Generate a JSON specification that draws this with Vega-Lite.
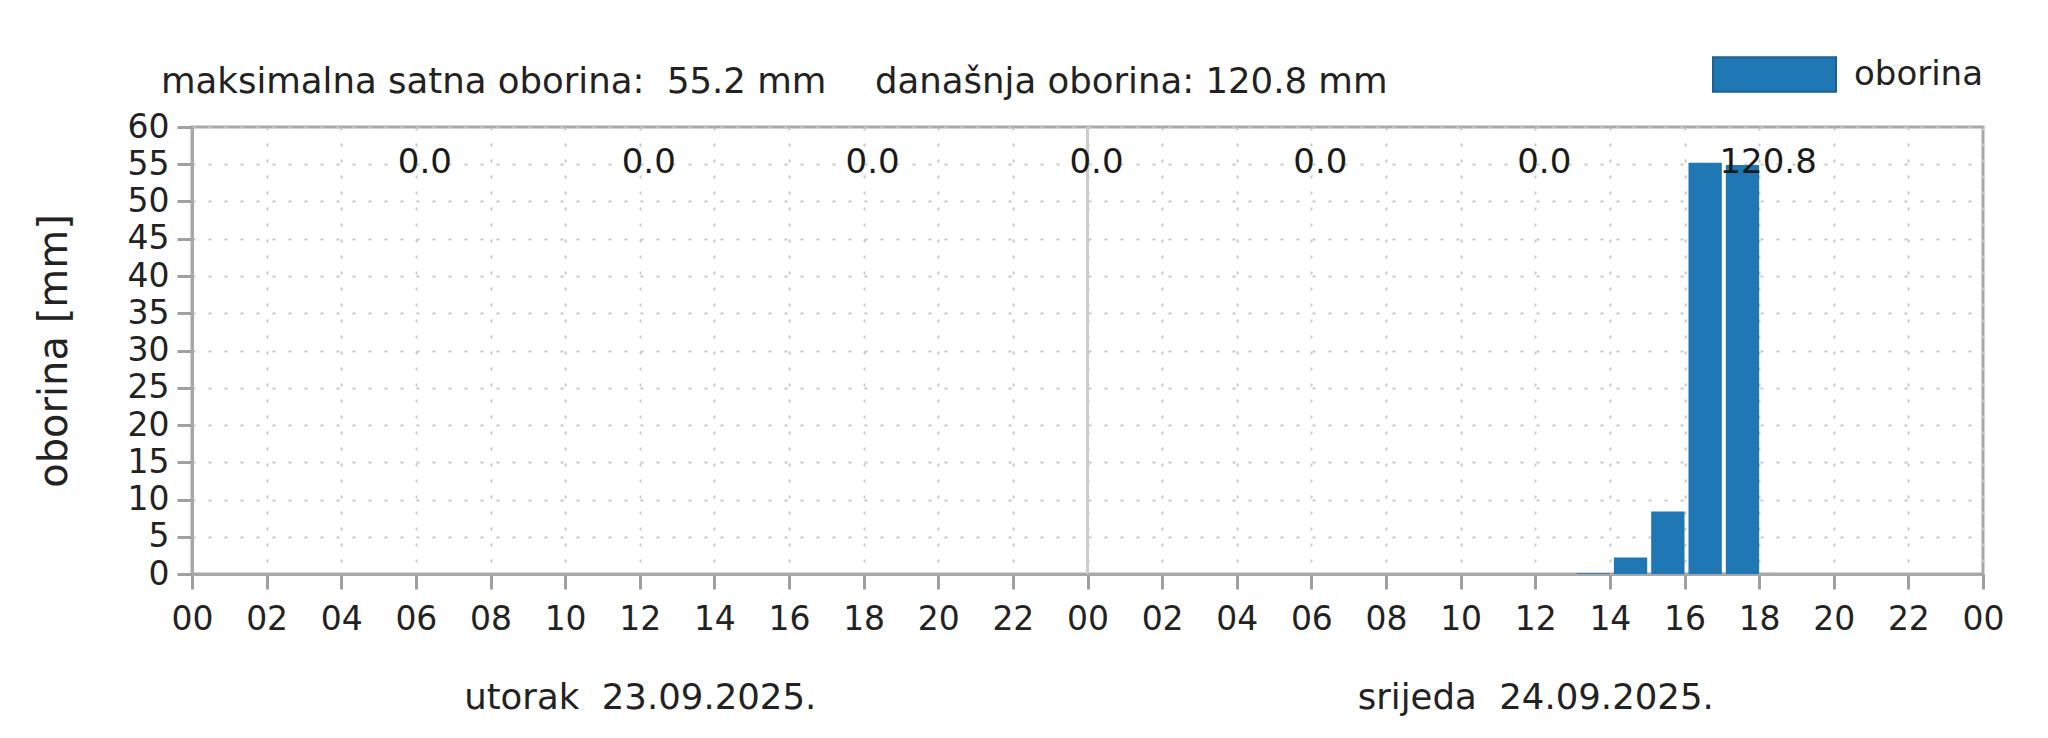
{
  "$schema": "https://vega.github.io/schema/vega-lite/v6.json",
  "width": 1791,
  "height": 447,
  "autosize": "none",
  "padding": {"left": 192, "top": 127, "right": 65, "bottom": 164},
  "background": "white",
  "config": {
    "font": "DejaVu Sans",
    "view": {"stroke": "#a8a8a8", "strokeWidth": 3}
  },
  "title": {
    "text": "maksimalna satna oborina:\u00a0\u00a055.2 mm\u00a0\u00a0\u00a0\u00a0\u200adanašnja oborina: 120.8 mm",
    "anchor": "start",
    "frame": "group",
    "dx": -31,
    "dy": 116,
    "offset": 0,
    "baseline": "alphabetic",
    "fontSize": 35.5,
    "font": "DejaVu Sans",
    "fontWeight": "normal",
    "color": "#222222"
  },
  "datasets": {
    "hourly": [
      {"start": "2025-09-23T00:00:00Z", "end": "2025-09-23T01:00:00Z", "oborina": 0},
      {"start": "2025-09-23T01:00:00Z", "end": "2025-09-23T02:00:00Z", "oborina": 0},
      {"start": "2025-09-23T02:00:00Z", "end": "2025-09-23T03:00:00Z", "oborina": 0},
      {"start": "2025-09-23T03:00:00Z", "end": "2025-09-23T04:00:00Z", "oborina": 0},
      {"start": "2025-09-23T04:00:00Z", "end": "2025-09-23T05:00:00Z", "oborina": 0},
      {"start": "2025-09-23T05:00:00Z", "end": "2025-09-23T06:00:00Z", "oborina": 0},
      {"start": "2025-09-23T06:00:00Z", "end": "2025-09-23T07:00:00Z", "oborina": 0},
      {"start": "2025-09-23T07:00:00Z", "end": "2025-09-23T08:00:00Z", "oborina": 0},
      {"start": "2025-09-23T08:00:00Z", "end": "2025-09-23T09:00:00Z", "oborina": 0},
      {"start": "2025-09-23T09:00:00Z", "end": "2025-09-23T10:00:00Z", "oborina": 0},
      {"start": "2025-09-23T10:00:00Z", "end": "2025-09-23T11:00:00Z", "oborina": 0},
      {"start": "2025-09-23T11:00:00Z", "end": "2025-09-23T12:00:00Z", "oborina": 0},
      {"start": "2025-09-23T12:00:00Z", "end": "2025-09-23T13:00:00Z", "oborina": 0},
      {"start": "2025-09-23T13:00:00Z", "end": "2025-09-23T14:00:00Z", "oborina": 0},
      {"start": "2025-09-23T14:00:00Z", "end": "2025-09-23T15:00:00Z", "oborina": 0},
      {"start": "2025-09-23T15:00:00Z", "end": "2025-09-23T16:00:00Z", "oborina": 0},
      {"start": "2025-09-23T16:00:00Z", "end": "2025-09-23T17:00:00Z", "oborina": 0},
      {"start": "2025-09-23T17:00:00Z", "end": "2025-09-23T18:00:00Z", "oborina": 0},
      {"start": "2025-09-23T18:00:00Z", "end": "2025-09-23T19:00:00Z", "oborina": 0},
      {"start": "2025-09-23T19:00:00Z", "end": "2025-09-23T20:00:00Z", "oborina": 0},
      {"start": "2025-09-23T20:00:00Z", "end": "2025-09-23T21:00:00Z", "oborina": 0},
      {"start": "2025-09-23T21:00:00Z", "end": "2025-09-23T22:00:00Z", "oborina": 0},
      {"start": "2025-09-23T22:00:00Z", "end": "2025-09-23T23:00:00Z", "oborina": 0},
      {"start": "2025-09-23T23:00:00Z", "end": "2025-09-24T00:00:00Z", "oborina": 0},
      {"start": "2025-09-24T00:00:00Z", "end": "2025-09-24T01:00:00Z", "oborina": 0},
      {"start": "2025-09-24T01:00:00Z", "end": "2025-09-24T02:00:00Z", "oborina": 0},
      {"start": "2025-09-24T02:00:00Z", "end": "2025-09-24T03:00:00Z", "oborina": 0},
      {"start": "2025-09-24T03:00:00Z", "end": "2025-09-24T04:00:00Z", "oborina": 0},
      {"start": "2025-09-24T04:00:00Z", "end": "2025-09-24T05:00:00Z", "oborina": 0},
      {"start": "2025-09-24T05:00:00Z", "end": "2025-09-24T06:00:00Z", "oborina": 0},
      {"start": "2025-09-24T06:00:00Z", "end": "2025-09-24T07:00:00Z", "oborina": 0},
      {"start": "2025-09-24T07:00:00Z", "end": "2025-09-24T08:00:00Z", "oborina": 0},
      {"start": "2025-09-24T08:00:00Z", "end": "2025-09-24T09:00:00Z", "oborina": 0},
      {"start": "2025-09-24T09:00:00Z", "end": "2025-09-24T10:00:00Z", "oborina": 0},
      {"start": "2025-09-24T10:00:00Z", "end": "2025-09-24T11:00:00Z", "oborina": 0},
      {"start": "2025-09-24T11:00:00Z", "end": "2025-09-24T12:00:00Z", "oborina": 0},
      {"start": "2025-09-24T12:00:00Z", "end": "2025-09-24T13:00:00Z", "oborina": 0},
      {"start": "2025-09-24T13:00:00Z", "end": "2025-09-24T14:00:00Z", "oborina": 0.1},
      {"start": "2025-09-24T14:00:00Z", "end": "2025-09-24T15:00:00Z", "oborina": 2.2},
      {"start": "2025-09-24T15:00:00Z", "end": "2025-09-24T16:00:00Z", "oborina": 8.4},
      {"start": "2025-09-24T16:00:00Z", "end": "2025-09-24T17:00:00Z", "oborina": 55.2},
      {"start": "2025-09-24T17:00:00Z", "end": "2025-09-24T18:00:00Z", "oborina": 54.9}
    ],
    "sums": [
      {"end": "2025-09-23T06:00:00Z", "zbroj": 0.0},
      {"end": "2025-09-23T12:00:00Z", "zbroj": 0.0},
      {"end": "2025-09-23T18:00:00Z", "zbroj": 0.0},
      {"end": "2025-09-24T00:00:00Z", "zbroj": 0.0},
      {"end": "2025-09-24T06:00:00Z", "zbroj": 0.0},
      {"end": "2025-09-24T12:00:00Z", "zbroj": 0.0},
      {"end": "2025-09-24T18:00:00Z", "zbroj": 120.8}
    ],
    "boundaries": [
      {"midnight": "2025-09-24T00:00:00Z"}
    ]
  },
  "resolve": {"axis": {"x": "independent"}},
  "layer": [
    {
      "data": {"name": "boundaries"},
      "mark": {"type": "rule", "color": "#cccccc", "strokeWidth": 3},
      "encoding": {
        "x": {
          "field": "midnight",
          "type": "temporal",
          "scale": {"type": "utc", "nice": false, "domain": [1758585600000, 1758758400000]},
          "axis": {
            "orient": "bottom",
            "values": [1758628800000, 1758715200000],
            "labelExpr": "(utcday(datum.value) == 2 ? 'utorak' : 'srijeda') + '\u00a0\u00a0' + utcFormat(datum.value, '%d.%m.%Y.')",
            "domain": false,
            "ticks": false,
            "grid": false,
            "labelFontSize": 35.5,
            "labelFont": "DejaVu Sans",
            "labelColor": "#222222",
            "labelPadding": 106,
            "labelLimit": 0,
            "labelFlush": false,
            "labelOverlap": false,
            "title": null
          }
        }
      }
    },
    {
      "data": {"name": "hourly"},
      "mark": {"type": "rect", "xOffset": 4, "color": "#1f77b4"},
      "encoding": {
        "x": {
          "field": "start",
          "type": "temporal",
          "scale": {"type": "utc", "nice": false, "domain": [1758585600000, 1758758400000]},
          "axis": {
            "orient": "bottom",
            "values": [1758585600000, 1758592800000, 1758600000000, 1758607200000, 1758614400000, 1758621600000, 1758628800000, 1758636000000, 1758643200000, 1758650400000, 1758657600000, 1758664800000, 1758672000000, 1758679200000, 1758686400000, 1758693600000, 1758700800000, 1758708000000, 1758715200000, 1758722400000, 1758729600000, 1758736800000, 1758744000000, 1758751200000, 1758758400000],
            "tickCount": 50,
            "labelExpr": "utcFormat(datum.value, '%H')",
            "labelFlush": false,
            "labelOverlap": false,
            "labelFontSize": 33,
            "labelFont": "DejaVu Sans",
            "labelColor": "#222222",
            "labelPadding": 14,
            "tickSize": 15,
            "tickWidth": 3,
            "tickColor": "#a0a0a0",
            "domainColor": "#a8a8a8",
            "domainWidth": 3,
            "grid": true,
            "gridColor": "#c8c8c8",
            "gridDash": [3, 13],
            "gridWidth": 2,
            "title": null
          }
        },
        "x2": {"field": "end"},
        "y": {
          "field": "oborina",
          "type": "quantitative",
          "scale": {"domain": [0, 60], "nice": false},
          "axis": {
            "values": [0, 5, 10, 15, 20, 25, 30, 35, 40, 45, 50, 55, 60],
            "tickCount": 20,
            "title": "oborina [mm]",
            "titleFont": "DejaVu Sans",
            "titleFontSize": 40,
            "titleFontWeight": "normal",
            "titleColor": "#222222",
            "titlePadding": 53,
            "labelFont": "DejaVu Sans",
            "labelFontSize": 33,
            "labelColor": "#222222",
            "labelPadding": 8,
            "labelFlush": false,
            "labelOverlap": false,
            "tickSize": 15,
            "tickWidth": 3,
            "tickColor": "#a0a0a0",
            "domainColor": "#a8a8a8",
            "domainWidth": 3,
            "grid": true,
            "gridColor": "#c8c8c8",
            "gridDash": [3, 13],
            "gridWidth": 2
          }
        },
        "y2": {"datum": 0},
        "color": {
          "datum": "oborina",
          "type": "nominal",
          "scale": {"range": ["#1f77b4"]},
          "legend": {
            "orient": "none",
            "legendX": 1520,
            "legendY": -115,
            "padding": 0,
            "title": null,
            "symbolType": "M-1,-0.28L1,-0.28L1,0.28L-1,0.28Z",
            "symbolSize": 15129,
            "symbolStrokeColor": "#1d5f8e",
            "symbolStrokeWidth": 2,
            "symbolOpacity": 1,
            "labelFontSize": 34,
            "labelFont": "DejaVu Sans",
            "labelColor": "#222222",
            "labelOffset": 17
          }
        }
      }
    },
    {
      "data": {"name": "sums"},
      "mark": {"type": "text", "fontSize": 34, "font": "DejaVu Sans", "dx": 9, "dy": -1, "baseline": "middle", "align": "center", "color": "#1a1a1a"},
      "encoding": {
        "x": {
          "field": "end",
          "type": "temporal",
          "scale": {"type": "utc", "nice": false, "domain": [1758585600000, 1758758400000]},
          "axis": null
        },
        "y": {"datum": 55, "type": "quantitative"},
        "text": {"field": "zbroj", "type": "quantitative", "format": ".1f"}
      }
    }
  ]
}
